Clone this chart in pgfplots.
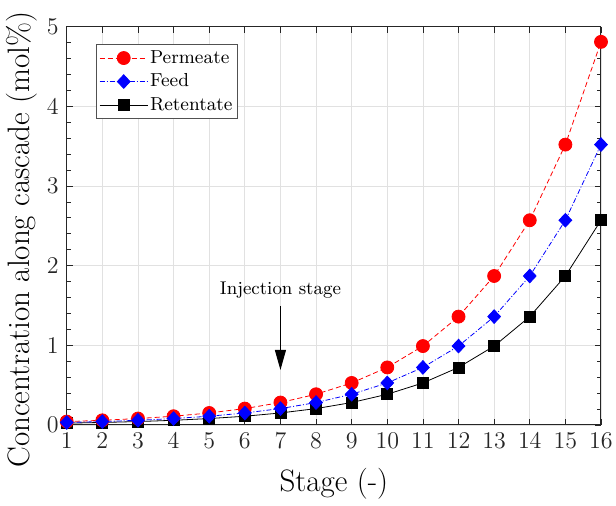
\documentclass[border=0pt]{standalone}
\usepackage{pgfplots}
\pgfplotsset{compat=1.18}
\usetikzlibrary{arrows.meta}
\definecolor{axgray}{RGB}{38,38,38}
\definecolor{gridgray}{RGB}{225,225,225}

\pgfplotstableread{
x perm feed ret
1 0.042 0.031 0.022
2 0.058 0.042 0.031
3 0.080 0.058 0.042
4 0.109 0.080 0.058
5 0.150 0.109 0.080
6 0.205 0.150 0.109
7 0.281 0.205 0.150
8 0.385 0.281 0.205
9 0.527 0.385 0.281
10 0.722 0.527 0.385
11 0.990 0.722 0.527
12 1.36 0.990 0.722
13 1.87 1.36 0.990
14 2.57 1.87 1.36
15 3.52 2.57 1.87
16 4.81 3.52 2.57
}\datatable

\begin{document}
\begin{tikzpicture}
\useasboundingbox (-33.35pt,-40.5pt) rectangle (274.5pt,212.35pt);
\begin{axis}[
  scale only axis, width=267pt, height=199pt,
  at={(0pt,0pt)}, anchor=south west,
  xmin=1, xmax=16, ymin=0, ymax=5,
  xtick={1,...,16}, ytick={0,...,5},
  minor y tick num=4,
  tick align=inside,
  major tick length=3pt, minor tick length=2pt,
  grid=major, major grid style={gridgray, line width=0.4pt},
  axis line style={axgray, line width=0.5pt},
  every tick/.style={axgray, line width=0.4pt},
  tick label style={font=\fontsize{12.8}{14}\selectfont, text=axgray},
  xticklabel style={yshift=-0.5pt},
  yticklabel style={xshift=-0.5pt},
  label style={font=\fontsize{15.5}{18}\selectfont},
  xlabel={Stage (-)}, ylabel={Concentration along cascade (mol\%)},
  x label style={at={(axis description cs:0.5,-0.148)}, anchor=center},
  y label style={at={(axis description cs:-0.085,0.465)}, anchor=center},
  clip=false,
  legend image code/.code={\draw[mark repeat=2,mark phase=2,#1] plot coordinates {(0pt,0pt) (12pt,0pt) (24pt,0pt)};},
  legend style={at={(axis description cs:0.055,0.957)}, anchor=north west,
    draw=axgray!80, line width=0.4pt, fill=white,
    font=\fontsize{9.4}{11}\selectfont, inner sep=1.4pt, row sep=0.75pt,
    nodes={inner sep=1pt, text height=7pt, text depth=2pt},
    legend cell align=left},
]
\addplot[black, line width=0.4pt, mark=square*, mark size=2.75pt, mark options={solid, fill=black}, forget plot] table[x=x, y=ret] {\datatable};
\addplot[red, line width=0.4pt, dash pattern=on 2.5pt off 1.5pt, mark=*, mark size=3.25pt, mark options={solid, fill=red}, forget plot] table[x=x, y=perm] {\datatable};
\addplot[blue, line width=0.4pt, dash pattern=on 2.5pt off 1pt on 0.5pt off 1pt, mark=diamond*, mark size=3.4pt, mark options={solid, fill=blue, xscale=1.25}, forget plot] table[x=x, y=feed] {\datatable};

\addlegendimage{red, line width=0.4pt, dash pattern=on 2.5pt off 1.5pt, mark=*, mark size=3.25pt, mark options={solid, fill=red}}
\addlegendentry{Permeate}
\addlegendimage{blue, line width=0.4pt, dash pattern=on 2.5pt off 1pt on 0.5pt off 1pt, mark=diamond*, mark size=3.4pt, mark options={solid, fill=blue, xscale=1.25}}
\addlegendentry{Feed}
\addlegendimage{black, line width=0.4pt, mark=square*, mark size=2.75pt, mark options={solid, fill=black}}
\addlegendentry{Retentate}

\draw[-{Triangle[width=5.5pt,length=10pt]}, line width=0.5pt] (axis cs:7,1.495) -- (axis cs:7,0.69);
\node[font=\fontsize{9.2}{11}\selectfont, anchor=center] at (axis cs:7,1.695) {Injection stage};
\end{axis}
\end{tikzpicture}
\end{document}
